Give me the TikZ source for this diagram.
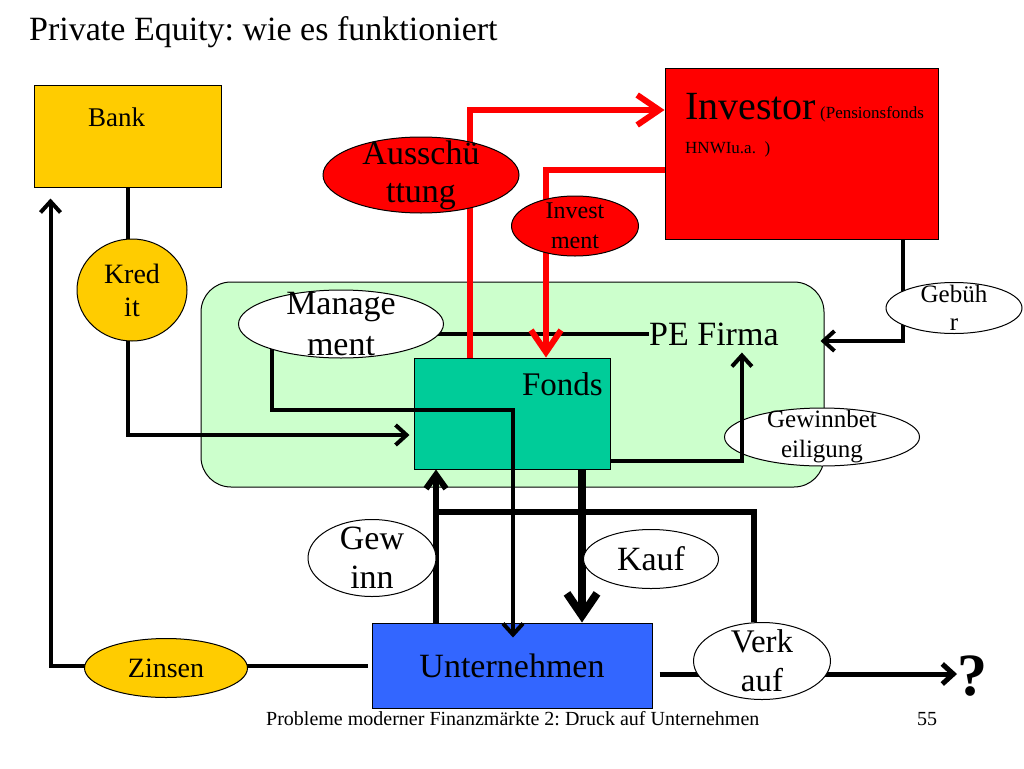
\documentclass[tikz,border=0pt]{standalone}
\usepackage{fontspec}
\setmainfont{Liberation Serif}
\usetikzlibrary{arrows.meta,shapes.geometric,calc}
\pgfdeclarelayer{bg}\pgfdeclarelayer{fg}\pgfsetlayers{bg,main,fg}
\definecolor{gold}{HTML}{FFCC00}
\definecolor{pered}{HTML}{FF0000}
\definecolor{pegreen}{HTML}{CCFFCC}
\definecolor{fondsgreen}{HTML}{00CC99}
\definecolor{untblue}{HTML}{3366FF}
\frenchspacing
\tikzset{
  box/.style={draw, line width=1pt, inner sep=0pt},
  oval/.style={ellipse, draw, line width=1pt, inner sep=0pt},
  txt/.style={inner sep=0pt},
  ln/.style={line width=4pt},
  redln/.style={line width=6pt, draw=pered},
  thk/.style={line width=6pt},
  kaufln/.style={line width=8pt},
  tipA/.style={-{Straight Barb[length=11pt,width=20pt]}},
  tipR/.style={-{Straight Barb[length=22pt,width=30pt]}},
  tipG/.style={-{Straight Barb[length=14pt,width=20pt]}},
  tipK/.style={-{Straight Barb[length=22pt,width=30pt]}},
}
\begin{document}
\begin{tikzpicture}[x=1pt,y=-1pt]
\useasboundingbox (0,0) rectangle (1024,768);
\begin{pgfonlayer}{bg}
  \fill[white] (0,0) rectangle (1024,768);
  \node[box, fill=pegreen, rounded corners=30pt, minimum width=623pt, minimum height=205pt] (pe) at (512.5,384.5) {};
  \node[box, fill=gold, minimum width=187pt, minimum height=102pt] (bank) at (127.5,136) {};
  \node[box, fill=pered, minimum width=273pt, minimum height=171pt] (investor) at (801.5,153.5) {};
  \node[box, fill=fondsgreen, minimum width=196pt, minimum height=111pt] (fonds) at (512,413.5) {};
  \node[box, fill=untblue, minimum width=280pt, minimum height=85pt, font=\fontsize{34}{39}\selectfont] (unt) at (512,665.5) {Unternehmen};
  \node[oval, fill=white, minimum width=195pt, minimum height=58pt,
        label={[align=center, inner sep=0pt, font=\fontsize{25}{30}\selectfont]center:Gewinnbet\\eiligung}] (gewb) at (822,437) {};
\end{pgfonlayer}

\begin{pgfonlayer}{fg}
  \node[oval, fill=gold, minimum width=110pt, minimum height=102pt,
        label={[align=center, inner sep=0pt, font=\fontsize{28}{33}\selectfont]center:Kred\\it}] (kredit) at (132,290) {};
  \node[oval, fill=gold, minimum width=163pt, minimum height=59pt,
        label={[inner sep=0pt, font=\fontsize{28}{33}\selectfont]center:Zinsen}] (zinsen) at (166,668) {};
  \node[oval, fill=white, minimum width=205pt, minimum height=68pt,
        label={[align=center, inner sep=0pt, font=\fontsize{34}{41}\selectfont]center:Manage\\ment}] (mgmt) at (341,324) {};
  \node[oval, fill=pered, minimum width=196pt, minimum height=76pt,
        label={[align=center, inner sep=0pt, font=\fontsize{34}{38}\selectfont]center:Ausschü\\ttung}] (aus) at (421,175) {};
  \node[oval, fill=pered, minimum width=127pt, minimum height=60pt,
        label={[align=center, inner sep=0pt, font=\fontsize{24}{30}\selectfont]center:Invest\\ment}] (inv) at (575,226) {};
  \node[oval, fill=white, minimum width=136pt, minimum height=51pt,
        label={[align=center, inner sep=0pt, font=\fontsize{25}{28}\selectfont]center:Gebüh\\r}] (gebuehr) at (954,308) {};
  \node[oval, fill=white, minimum width=128pt, minimum height=77pt,
        label={[align=center, inner sep=0pt, font=\fontsize{34}{39}\selectfont]center:Gew\\inn}] (gewinn) at (372,558) {};
  \node[oval, fill=white, minimum width=135pt, minimum height=59pt,
        label={[inner sep=0pt, font=\fontsize{34}{39}\selectfont]center:Kauf}] (kauf) at (651,559) {};
  \node[oval, fill=white, minimum width=137pt, minimum height=77pt,
        label={[align=center, inner sep=0pt, font=\fontsize{33}{39}\selectfont]center:Verk\\auf}] (verkauf) at (762,661) {};
\end{pgfonlayer}

% texts
\node[txt, anchor=base west, font=\fontsize{34}{39}\selectfont] (title) at (29,41) {Private Equity: wie es funktioniert};
\node[txt, anchor=base west, font=\fontsize{27}{30}\selectfont] (banktxt) at (88,126) {Bank};
\node[txt, anchor=base west, font=\fontsize{40}{44}\selectfont] (invtxt) at (685,119) {Investor};
\node[txt, anchor=base west, font=\fontsize{17}{20}\selectfont] (invsub) at (820,118) {(Pensionsfonds};
\node[txt, anchor=base west, font=\fontsize{17}{20}\selectfont] (invsub2) at (685,153) {HNWIu.a.\ \ )};
\node[txt, anchor=base west, font=\fontsize{34}{39}\selectfont] (petxt) at (649,345) {PE Firma};
\node[txt, anchor=base east, font=\fontsize{33}{39}\selectfont] (fondstxt) at (603,395) {Fonds};
\node[txt, anchor=base west, font=\fontsize{60}{64}\selectfont\bfseries] (q) at (957,695) {?};
\node[txt, anchor=base west, font=\fontsize{20}{24}\selectfont] (footer) at (266,725) {Probleme moderner Finanzmärkte 2: Druck auf Unternehmen};
\node[txt, anchor=base west, font=\fontsize{20}{24}\selectfont] (pageno) at (917,725) {55};

% connectors
\draw[ln, tipA] (bank.south) |- ($(fonds.west)+(-4,21.5)$);
\draw[ln, tipA] ($(unt.west)+(-4,0)$) -| ($(bank.south west)+(17,11)$);
\draw[ln] (mgmt.center |- petxt.west) -- (petxt.west);
\draw[ln, tipA] ($(mgmt.center)+(-69,0)$) |- ($(unt.north)+(1,-213)$) -- ($(unt.north)+(1,15)$);
\draw[ln, tipA] ($(fonds.south east)+(0,-9)$) -| ($(petxt.south)+(28,7)$);
\draw[ln, tipA] ($(investor.south)+(101.5,0)$) |- ($(pe.east)+(-4,-43.5)$);
\draw[redln, tipR] ($(fonds.north)+(-42,0)$) |- ($(investor.west)+(0,-43.5)$);
\draw[redln, tipR] ($(investor.west)+(0,16.5)$) -| ($(fonds.north)+(34,0)$);
\draw[thk, tipG] ($(unt.north)+(-76,0)$) -- ($(fonds.south)+(-76,0)$);
\draw[kaufln, tipK] ($(fonds.south)+(70,0)$) -- ($(unt.north)+(70,0)$);
\draw[thk] ($(verkauf.north)+(-8,0)$) |- ($(unt.north)+(-79,-111)$);
\draw[line width=5pt, tipA] ($(unt.east)+(7,8.5)$) -- (q.west |- 0,674);
\end{tikzpicture}
\end{document}
